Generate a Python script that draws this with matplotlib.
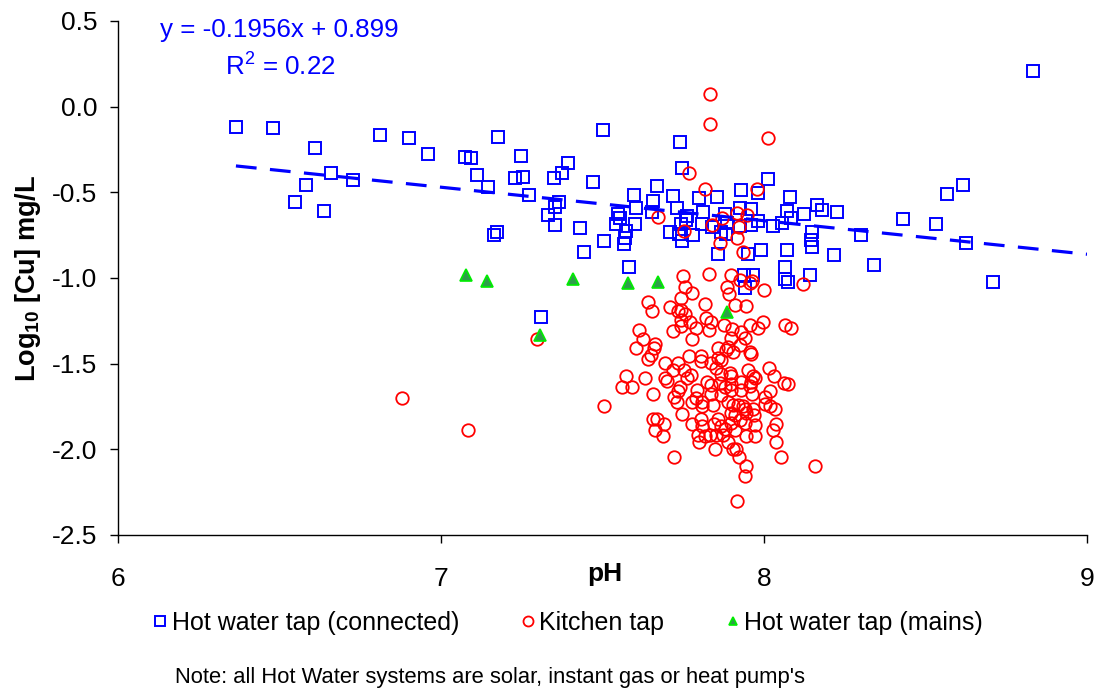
import matplotlib
matplotlib.use('Agg')
import matplotlib.pyplot as plt

plt.rcParams['font.family'] = ['Liberation Sans', 'DejaVu Sans']
plt.rcParams['mathtext.fontset'] = 'custom'
plt.rcParams['mathtext.rm'] = 'Liberation Sans'
plt.rcParams['mathtext.bf'] = 'Liberation Sans:bold'
plt.rcParams['mathtext.default'] = 'regular'

# Hot water tap (connected): pH, log10 Cu
hot_ph = [6.365, 6.48, 6.61, 6.66, 6.582, 6.548, 6.638, 6.728, 6.81, 6.90,
          6.96, 7.074, 7.093, 7.111, 7.146, 7.176, 7.248, 7.229, 7.254, 7.35,
          7.375, 7.393, 7.471, 7.502, 7.272, 7.365, 7.353, 7.331, 7.353, 7.43,
          7.164, 7.173, 7.505, 7.443, 7.31, 7.598, 7.604, 7.548, 7.554, 7.542,
          7.573, 7.601, 7.57, 7.567, 7.582, 7.74, 7.746, 7.669, 7.656, 7.718,
          7.731, 7.799, 7.854, 7.929, 7.981, 8.012, 8.08, 8.164, 8.18, 8.226,
          8.071, 8.124, 7.96, 7.926, 7.879, 7.811, 7.762, 7.759, 7.653, 7.743,
          7.808, 7.839, 7.885, 7.926, 7.96, 7.981, 8.028, 8.056, 8.084, 7.709,
          7.737, 7.78, 7.867, 7.882, 7.746, 8.149, 8.146, 8.149, 7.858, 7.95,
          7.991, 8.071, 8.217, 8.065, 8.065, 8.074, 8.142, 7.938, 7.966, 7.941,
          8.30, 8.341, 8.43, 8.532, 8.567, 8.616, 8.625, 8.709, 8.833]
hot_cu = [-0.118, -0.124, -0.24, -0.386, -0.456, -0.555, -0.607, -0.427, -0.165, -0.182,
          -0.275, -0.293, -0.299, -0.397, -0.467, -0.176, -0.287, -0.415, -0.409, -0.415,
          -0.386, -0.328, -0.438, -0.135, -0.514, -0.555, -0.584, -0.63, -0.689, -0.706,
          -0.747, -0.729, -0.782, -0.846, -1.23, -0.514, -0.59, -0.625, -0.648, -0.683,
          -0.724, -0.683, -0.764, -0.799, -0.933, -0.205, -0.357, -0.462, -0.549, -0.52,
          -0.59, -0.531, -0.526, -0.485, -0.502, -0.421, -0.526, -0.572, -0.601, -0.613,
          -0.607, -0.625, -0.596, -0.59, -0.625, -0.613, -0.636, -0.66, -0.613, -0.683,
          -0.683, -0.70, -0.677, -0.695, -0.689, -0.665, -0.695, -0.677, -0.648, -0.729,
          -0.741, -0.747, -0.729, -0.741, -0.782, -0.729, -0.776, -0.817, -0.858, -0.858,
          -0.834, -0.834, -0.863, -0.933, -1.003, -1.026, -0.98, -0.98, -0.98, -1.061,
          -0.747, -0.922, -0.654, -0.683, -0.508, -0.456, -0.794, -1.021, 0.208]

# Kitchen tap
kit_ph = [7.833, 7.833, 8.012, 7.768, 7.817, 7.978, 7.672, 7.870, 7.916, 7.947,
          7.839, 7.923, 7.752, 7.916, 7.864, 7.935, 6.879, 7.084, 7.297, 7.505,
          7.749, 7.755, 7.777, 7.743, 7.641, 7.653, 7.709, 7.734, 7.743, 7.755,
          7.743, 7.771, 7.743, 7.718, 7.789, 7.777, 7.613, 7.625, 7.604, 7.663,
          7.659, 7.65, 7.641, 7.693, 7.734, 7.768, 7.805, 7.805, 7.718, 7.752,
          7.774, 7.762, 7.693, 7.700, 7.632, 7.573, 7.560, 7.591, 7.656, 7.74,
          7.734, 7.721, 7.731, 7.793, 7.789, 7.777, 7.808, 7.808, 7.746, 7.656,
          7.669, 7.690, 7.663, 7.687, 7.777, 7.805, 7.808, 7.796, 7.817, 7.799,
          7.721, 7.830, 7.898, 7.926, 7.957, 7.963, 7.885, 7.892, 8.00, 8.121,
          7.817, 7.910, 7.944, 7.820, 7.836, 7.830, 7.876, 7.901, 7.929, 7.957,
          7.981, 7.997, 8.065, 8.084, 7.898, 7.941, 7.926, 7.858, 7.889, 7.904,
          7.882, 7.957, 7.960, 7.858, 7.867, 7.836, 7.851, 7.867, 7.895, 7.898,
          7.950, 8.015, 8.031, 7.824, 7.836, 7.864, 7.879, 7.898, 7.929, 7.966,
          7.972, 7.960, 7.957, 8.062, 8.074, 7.836, 7.867, 7.898, 7.929, 7.963,
          8.003, 8.019, 7.842, 7.889, 7.904, 7.920, 7.935, 7.941, 8.003, 8.019,
          8.034, 7.966, 7.969, 7.858, 7.898, 7.910, 7.926, 7.944, 7.845, 7.867,
          7.898, 7.941, 7.972, 8.037, 8.028, 7.879, 7.910, 7.833, 7.851, 7.873,
          7.944, 7.972, 7.889, 8.037, 7.848, 7.904, 7.913, 7.923, 8.053, 7.944,
          7.941, 8.158, 7.916]
kit_cu = [0.074, -0.10, -0.182, -0.386, -0.479, -0.479, -0.642, -0.648, -0.619, -0.63,
          -0.689, -0.70, -0.724, -0.764, -0.794, -0.846, -1.702, -1.888, -1.358, -1.749,
          -0.986, -1.05, -1.085, -1.114, -1.143, -1.195, -1.172, -1.195, -1.184, -1.213,
          -1.248, -1.259, -1.283, -1.312, -1.294, -1.358, -1.306, -1.358, -1.411, -1.388,
          -1.411, -1.452, -1.475, -1.498, -1.498, -1.457, -1.457, -1.487, -1.539, -1.539,
          -1.568, -1.586, -1.586, -1.603, -1.586, -1.574, -1.638, -1.638, -1.679, -1.638,
          -1.661, -1.696, -1.725, -1.656, -1.702, -1.725, -1.725, -1.749, -1.795, -1.824,
          -1.824, -1.854, -1.888, -1.923, -1.854, -1.824, -1.865, -1.918, -1.923, -1.958,
          -2.046, -0.974, -0.98, -1.009, -1.032, -1.015, -1.05, -1.096, -1.073, -1.038,
          -1.149, -1.16, -1.166, -1.236, -1.259, -1.306, -1.277, -1.30, -1.318, -1.277,
          -1.289, -1.254, -1.277, -1.294, -1.353, -1.353, -1.393, -1.411, -1.405, -1.434,
          -1.423, -1.434, -1.446, -1.469, -1.481, -1.498, -1.527, -1.562, -1.556, -1.574,
          -1.539, -1.527, -1.574, -1.609, -1.626, -1.615, -1.638, -1.621, -1.609, -1.574,
          -1.586, -1.609, -1.632, -1.615, -1.621, -1.679, -1.685, -1.656, -1.656, -1.679,
          -1.696, -1.661, -1.743, -1.725, -1.743, -1.743, -1.749, -1.766, -1.737, -1.749,
          -1.766, -1.766, -1.801, -1.824, -1.789, -1.801, -1.83, -1.789, -1.854, -1.865,
          -1.848, -1.848, -1.859, -1.854, -1.888, -1.883, -1.888, -1.918, -1.918, -1.918,
          -1.923, -1.923, -1.958, -1.958, -1.999, -1.999, -1.999, -2.046, -2.046, -2.098,
          -2.156, -2.098, -2.302]

# Hot water tap (mains)
mains_ph = [7.077, 7.142, 7.409, 7.579, 7.672, 7.307, 7.885]
mains_cu = [-0.98, -1.015, -1.003, -1.032, -1.021, -1.335, -1.201]

# trendline reported on the chart
slope = -0.1956
intercept = 0.899
r2 = 0.22

fig = plt.figure(figsize=(11.01, 6.88), dpi=100)
ax = fig.add_axes([0.1072, 0.2224, 0.8801, 0.7471])

ax.plot(hot_ph, hot_cu, linestyle='none', marker='s', ms=8.5, mfc='none',
        mec='#0000ff', mew=1.4, label='Hot water tap (connected)', zorder=2)
ax.plot(kit_ph, kit_cu, linestyle='none', marker='o', ms=9, mfc='none',
        mec='#ff0000', mew=1.3, label='Kitchen tap', zorder=3)
ax.plot(mains_ph, mains_cu, linestyle='none', marker='^', ms=8, mfc='#2e9e4a',
        mec='#00ee00', mew=1.2, label='Hot water tap (mains)', zorder=4)

x0 = min(hot_ph)
x1 = 9.0
ax.plot([x0, x1], [slope * x0 + intercept, slope * x1 + intercept],
        color='#0000ff', lw=2.3, dashes=(6.5, 4.2), zorder=5)

ax.text(0.0433, 0.9825, 'y = %.4fx + %.3f' % (slope, intercept), color='#0000ff',
        fontsize=18.7, va='center', ha='left', transform=ax.transAxes)
ax.text(0.110, 0.910, 'R$^2$ = %.2f' % r2, color='#0000ff', fontsize=18.7,
        va='center', ha='left', transform=ax.transAxes)

ax.set_xlim(6, 9)
ax.set_ylim(-2.5, 0.5)
ax.set_xticks([6, 7, 8, 9])
ax.set_yticks([-2.5, -2.0, -1.5, -1.0, -0.5, 0.0, 0.5])
ax.set_yticklabels(['%.1f' % v for v in [-2.5, -2.0, -1.5, -1.0, -0.5, 0.0, 0.5]])
ax.tick_params(axis='both', direction='out', length=6, width=1, labelsize=19)
ax.tick_params(axis='x', pad=17)
ax.tick_params(axis='y', pad=9)
for s in ['top', 'right']:
    ax.spines[s].set_visible(False)
for s in ['left', 'bottom']:
    ax.spines[s].set_linewidth(1.0)

ax.set_xlabel('pH', fontsize=19, fontweight='bold')
ax.xaxis.set_label_coords(0.5026, -0.075)
ax.xaxis.label.set_va('center')
ax.set_ylabel(r'Log$_{\mathbf{10}}$ [Cu] mg/L', fontsize=19.5, fontweight='bold')
ax.yaxis.set_label_coords(-0.093, 0.5)
ax.yaxis.label.set_va('center')

fig.legend(loc='center', bbox_to_anchor=(569 / 1101, 1 - 623 / 688), ncol=3,
           frameon=False, fontsize=18, handlelength=0.4, handletextpad=0.25,
           columnspacing=2.55, markerscale=0.8)

fig.text(175 / 1101, 1 - 677 / 688,
         "Note: all Hot Water systems are solar, instant gas or heat pump's",
         fontsize=15.8, ha='left', va='center')

fig.savefig('out.png', dpi=100)
